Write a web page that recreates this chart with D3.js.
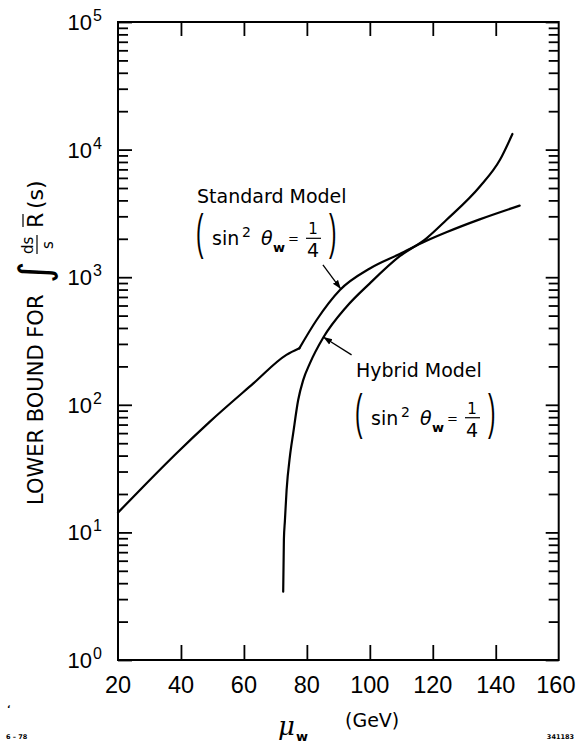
<!DOCTYPE html>
<html>
<head>
<meta charset="utf-8">
<script src="https://cdn.jsdelivr.net/npm/d3@7"></script>
<style>
  html, body { margin: 0; padding: 0; background: #fff; }
  svg { display: block; }
  text { fill: #000; }
</style>
</head>
<body>
<svg width="576" height="745"></svg>
<script>
// data
const muTicks = [20, 40, 60, 80, 100, 120, 140, 160];
const decades = [0, 1, 2, 3, 4, 5];

// standard model has a corner at the kink point (index 6)
const standardMu  = [20, 28, 38.6, 49.2, 63, 73.5, 77.6, 83.1, 90.5, 100, 109.5, 118, 124.3, 134.9, 147.6];
const standardVal = [14.3, 22.8, 41.7, 73.8, 147, 246, 277, 462, 794, 1170, 1520, 1930, 2250, 2840, 3640];
const standardKink = 6;

const hybridMu  = [72.48, 72.7, 73.02, 73.56, 74.6, 75.65, 77.24, 78.83, 80.95, 85.17, 92.6, 100, 109.5, 118, 124.3, 134.9, 141.3, 145.3];
const hybridVal = [3.43, 8.8, 12.3, 21.5, 39.2, 59.7, 109, 156, 211, 335, 587, 895, 1460, 2018, 2806, 5117, 8280, 13250];

const plotLeft = 118, plotRight = 558.7, plotTop = 22, plotBottom = 660;
const numFont = "'Liberation Sans', Arial, sans-serif";
const textFont = "'DejaVu Sans', sans-serif";

const svg = d3.select("svg");

const x = d3.scaleLinear().domain([20, 160]).range([plotLeft, plotRight]);
const y = d3.scaleLog().domain([1, 1e5]).range([plotBottom, plotTop]);

// minor ticks 2..9 in every decade
const minorTicks = [];
decades.slice(0, -1).forEach((d) => {
    for (let k = 2; k <= 9; k++) minorTicks.push(k * Math.pow(10, d));
});
const majorTicks = decades.map((d) => Math.pow(10, d));
const innerMu = muTicks.slice(1, -1);

const axisStyle = (g) => {
    g.select(".domain").remove();
    g.selectAll("line").attr("stroke", "#000").attr("stroke-width", 1.8);
    g.selectAll("text").remove();
};

svg.append("g").attr("transform", `translate(0,${plotBottom})`)
    .call(d3.axisBottom(x).tickValues(innerMu).tickSize(-15)).call(axisStyle);
svg.append("g").attr("transform", `translate(0,${plotTop})`)
    .call(d3.axisTop(x).tickValues(innerMu).tickSize(-14)).call(axisStyle);

svg.append("g").attr("transform", `translate(${plotLeft},0)`)
    .call(d3.axisLeft(y).tickValues(minorTicks).tickSize(-10)).call(axisStyle);
svg.append("g").attr("transform", `translate(${plotLeft},0)`)
    .call(d3.axisLeft(y).tickValues(majorTicks).tickSize(-14)).call(axisStyle);
svg.append("g").attr("transform", `translate(${plotRight},0)`)
    .call(d3.axisRight(y).tickValues(minorTicks).tickSize(-10)).call(axisStyle);
svg.append("g").attr("transform", `translate(${plotRight},0)`)
    .call(d3.axisRight(y).tickValues(majorTicks).tickSize(-13)).call(axisStyle);

svg.append("rect")
    .attr("x", plotLeft).attr("y", plotTop)
    .attr("width", plotRight - plotLeft).attr("height", plotBottom - plotTop)
    .attr("fill", "none").attr("stroke", "#000").attr("stroke-width", 2);

// tick labels (last one kept inside the page)
svg.append("g").selectAll("text")
    .data(muTicks)
    .enter().append("text")
        .attr("x", (d, i) => i === muTicks.length - 1 ? 575.5 : x(d))
        .attr("y", plotBottom + 33)
        .attr("text-anchor", (d, i) => i === muTicks.length - 1 ? "end" : "middle")
        .attr("font-family", numFont)
        .attr("font-size", 23.5)
        .text((d) => d);

const yLabels = svg.append("g").selectAll("g")
    .data(decades)
    .enter().append("g")
        .attr("transform", (d) => `translate(0,${y(Math.pow(10, d))})`);
yLabels.append("text")
    .attr("x", 92).attr("y", 8)
    .attr("text-anchor", "end")
    .attr("font-family", numFont)
    .attr("font-size", 22)
    .text("10");
yLabels.append("text")
    .attr("x", 93).attr("y", -1)
    .attr("font-family", numFont)
    .attr("font-size", 16)
    .text((d) => d);

// curves
const line = d3.line()
    .x((d) => x(d[0]))
    .y((d) => y(d[1]))
    .curve(d3.curveMonotoneX);

const drawCurve = (points) => {
    svg.append("path")
        .datum(points)
        .attr("d", line)
        .attr("fill", "none")
        .attr("stroke", "#000")
        .attr("stroke-width", 2.2)
        .attr("stroke-linecap", "round");
};
const standardPts = d3.zip(standardMu, standardVal);
drawCurve(standardPts.slice(0, standardKink + 1));
drawCurve(standardPts.slice(standardKink));
drawCurve(d3.zip(hybridMu, hybridVal));

// annotations
svg.append("defs").append("marker")
    .attr("id", "head")
    .attr("viewBox", "0 0 10 10")
    .attr("refX", 10).attr("refY", 5)
    .attr("markerWidth", 9).attr("markerHeight", 9)
    .attr("markerUnits", "userSpaceOnUse")
    .attr("orient", "auto")
    .append("path").attr("d", "M0,1.5L10,5L0,8.5Z").attr("fill", "#000");

const arrow = (from, to) => {
    svg.append("line")
        .attr("x1", x(from[0])).attr("y1", y(from[1]))
        .attr("x2", x(to[0])).attr("y2", y(to[1]))
        .attr("stroke", "#000").attr("stroke-width", 1.3)
        .attr("marker-end", "url(#head)");
};

const modelLabel = (name, at, gap) => {
    const g = svg.append("g")
        .attr("transform", `translate(${x(at[0])},${y(at[1])})`)
        .attr("font-family", textFont);
    g.append("text").attr("font-size", 19).text(name);

    const l2 = g.append("g").attr("transform", `translate(0,${gap})`);
    l2.append("text").attr("transform", "translate(-1,4) scale(0.45,1)")
        .attr("font-family", numFont).attr("font-size", 50).text("(");
    l2.append("text").attr("x", 15).attr("font-size", 19).text("sin");
    l2.append("text").attr("x", 45).attr("y", -8).attr("font-size", 14).text("2");
    l2.append("text").attr("x", 64).attr("font-size", 19).attr("font-style", "italic").text("θ");
    l2.append("text").attr("x", 76).attr("y", 7).attr("font-size", 13).attr("font-weight", "bold").text("w");
    l2.append("text").attr("x", 91).attr("y", -2).attr("font-size", 13).text("=");
    l2.append("text").attr("x", 116).attr("y", -11).attr("text-anchor", "middle").attr("font-size", 15).text("1");
    l2.append("line").attr("x1", 109).attr("x2", 124).attr("y1", -7).attr("y2", -7)
        .attr("stroke", "#000").attr("stroke-width", 1.2);
    l2.append("text").attr("x", 116).attr("y", 12).attr("text-anchor", "middle").attr("font-size", 19).text("4");
    l2.append("text").attr("transform", "translate(132,4) scale(0.45,1)")
        .attr("font-family", numFont).attr("font-size", 50).text(")");
};

modelLabel("Standard Model", [45.1, 3794], 42);
modelLabel("Hybrid Model", [95.6, 166], 48);
arrow([85.1, 1247], [90.8, 808]);
arrow([94.2, 246], [85.2, 340]);

// y axis title
const yt = svg.append("g")
    .attr("transform", "translate(43,505) rotate(-90)")
    .attr("font-family", textFont);
yt.append("text").attr("font-size", 21).text("LOWER BOUND FOR");
yt.append("text").attr("x", 222).attr("y", 6).attr("font-size", 42).text("∫");
yt.append("text").attr("x", 251).attr("y", -10).attr("font-size", 15).text("ds");
yt.append("line").attr("x1", 251).attr("x2", 270).attr("y1", -6).attr("y2", -6)
    .attr("stroke", "#000").attr("stroke-width", 1.2);
yt.append("text").attr("x", 256).attr("y", 10).attr("font-size", 15).text("s");
yt.append("text").attr("x", 277).attr("font-size", 22).text("R");
yt.append("line").attr("x1", 278).attr("x2", 291).attr("y1", -20).attr("y2", -20)
    .attr("stroke", "#000").attr("stroke-width", 1.2);
yt.append("text").attr("x", 296).attr("font-size", 22).text("(s)");

// x axis title
svg.append("text")
    .attr("x", 278).attr("y", 735)
    .attr("font-family", "'DejaVu Serif', serif")
    .attr("font-style", "italic")
    .attr("font-size", 26)
    .text("μ");
svg.append("text")
    .attr("x", 296).attr("y", 741)
    .attr("font-family", textFont)
    .attr("font-weight", "bold")
    .attr("font-size", 13)
    .text("w");
svg.append("text")
    .attr("x", 345).attr("y", 727)
    .attr("font-family", textFont)
    .attr("font-size", 19)
    .text("(GeV)");

// plate numbers
svg.append("text")
    .attr("x", 7).attr("y", 712)
    .attr("font-family", textFont).attr("font-weight", "bold").attr("font-size", 9)
    .text("ʻ");
svg.append("text")
    .attr("x", 6).attr("y", 739)
    .attr("font-family", textFont).attr("font-weight", "bold").attr("font-size", 6.5)
    .text("6 – 78");
svg.append("text")
    .attr("x", 574).attr("y", 739)
    .attr("text-anchor", "end")
    .attr("font-family", textFont).attr("font-weight", "bold").attr("font-size", 6.5)
    .text("341183");
</script>
</body>
</html>
